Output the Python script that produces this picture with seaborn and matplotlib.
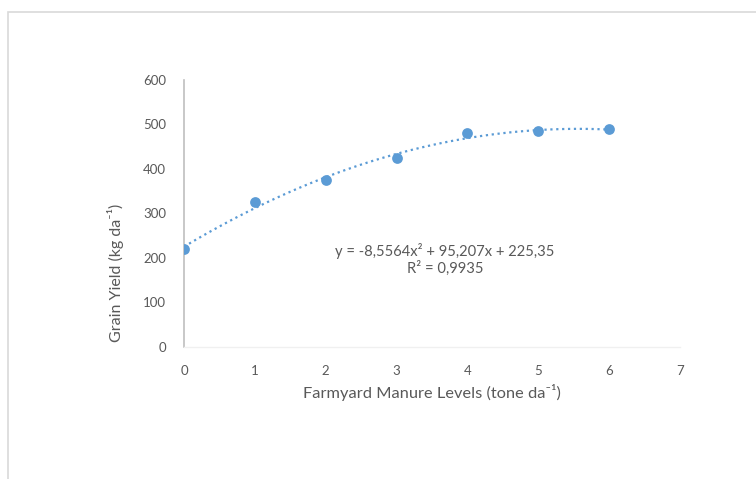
import numpy as np
import pandas as pd
import matplotlib.pyplot as plt
import seaborn as sns
from matplotlib.patches import Rectangle

sns.set_theme(style="white")
plt.rcParams["font.family"] = ["Lato", "DejaVu Sans"]

manure_levels = [0, 1, 2, 3, 4, 5, 6]
grain_yield = [220, 325, 375, 425, 480, 485, 490]
# trendline coefficients as printed on the chart (a*x^2 + b*x + c)
trend_coefs = [-8.5564, 95.207, 225.35]
r_squared = "0,9935"
x_ticks = [0, 1, 2, 3, 4, 5, 6, 7]
y_ticks = [0, 100, 200, 300, 400, 500, 600]

blue = "#5B9BD5"
text_grey = "#595959"

df = pd.DataFrame({"level": manure_levels, "yield": grain_yield})
trend_x = np.linspace(min(manure_levels), max(manure_levels), 100)
trend_df = pd.DataFrame({"level": trend_x, "yield": np.polyval(trend_coefs, trend_x)})

fig = plt.figure(figsize=(7.56, 4.79), dpi=100)
ax = fig.add_axes([0.2434, 0.2756, 0.6561, 0.5574])

sns.lineplot(data=trend_df, x="level", y="yield", color=blue, linestyle=":",
             linewidth=1.6, ax=ax)
sns.scatterplot(data=df, x="level", y="yield", color=blue, s=60,
                edgecolor=blue, linewidth=0, zorder=3, ax=ax)

ax.set_xlim(0, 7)
ax.set_ylim(0, 600)
ax.set_xticks(x_ticks)
ax.set_yticks(y_ticks)
ax.tick_params(axis="both", labelsize=9.5, colors=text_grey, length=0)
ax.tick_params(axis="x", pad=13)
ax.tick_params(axis="y", pad=13)

for side in ["top", "right"]:
    ax.spines[side].set_visible(False)
ax.spines["left"].set_color("#BFBFBF")
ax.spines["left"].set_linewidth(1.2)
ax.spines["bottom"].set_color("#F0F0F0")
ax.spines["bottom"].set_linewidth(1.0)

ax.set_xlabel("Farmyard Manure Levels (tone da\u207b\u00b9)", fontsize=11.8,
              color=text_grey, labelpad=5)
ax.set_ylabel("Grain Yield (kg da\u207b\u00b9)", fontsize=11.5, color=text_grey)
ax.yaxis.set_label_coords(-0.12, 0.277)

eq = (f"y = {trend_coefs[0]:.4f}x\u00b2 + {trend_coefs[1]:.3f}x + {trend_coefs[2]:.2f}"
      .replace(".", ","))
ax.text(0.526, 0.39, eq + "\n" + f"R\u00b2 = {r_squared}", transform=ax.transAxes,
        ha="center", va="top", fontsize=10.6, color=text_grey, linespacing=1.15)

# outer chart-area border
fig.patches.append(Rectangle((8 / 756, -0.1), 1.1, 1 - 12 / 479 + 0.1,
                             transform=fig.transFigure, fill=False,
                             edgecolor="#D9D9D9", linewidth=1.2))

fig.savefig("out.png", dpi=100, facecolor="white")
